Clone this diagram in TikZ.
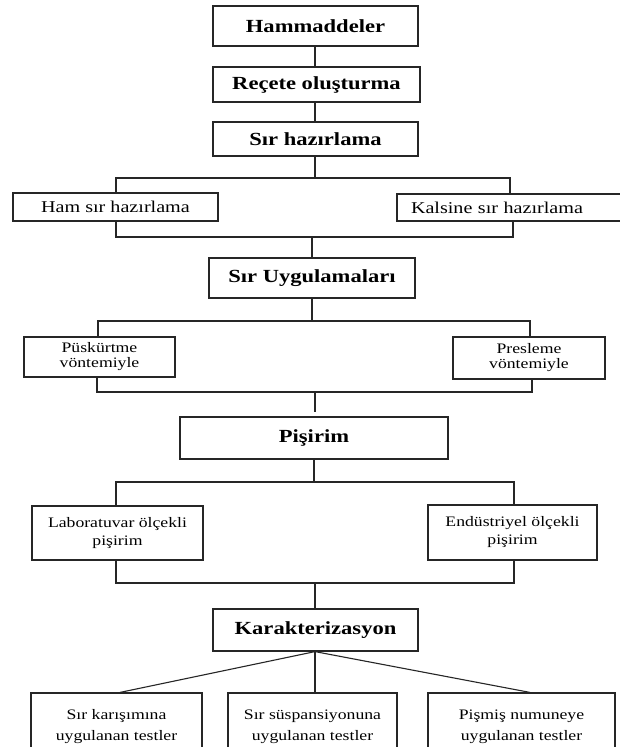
\documentclass[tikz,border=0pt]{standalone}
\usepackage{fontspec}
\setmainfont{Liberation Serif}[FakeStretch=1.22]
\usetikzlibrary{positioning}
\begin{document}
\begin{tikzpicture}[x=1pt,y=-1pt,
  ln/.style={draw=black!85, line width=1.1pt},
  box/.style={draw=black!85, line width=1.2pt, rectangle, inner sep=0pt, align=center, text=black},
  big/.style={box, font=\fontsize{18.5}{20}\selectfont\bfseries},
  mid/.style={box, font=\fontsize{16.5}{18}\selectfont},
  sml/.style={box, font=\fontsize{14.5}{15}\selectfont},
  bot/.style={box, font=\fontsize{14.5}{21}\selectfont}]
\useasboundingbox (0,0) rectangle (620,747);
\fill[white] (0,0) rectangle (620,747);
\clip (0,0) rectangle (620,747);

\node[big, minimum width=205pt, minimum height=40pt] (ham) at (315.5,26) {Hammaddeler};
\node[big, minimum width=207pt, minimum height=35pt] (rec) at (316.5,84.5) {Reçete oluşturma};
\node[big, minimum width=205pt, minimum height=34pt] (sir) at (315.5,139) {Sır hazırlama};

\node[mid, minimum width=205pt, minimum height=28pt] (hsir) at (115.5,207) {Ham sır hazırlama};
\node[mid, text width=212pt, inner xsep=14pt, align=left, minimum height=27pt] (ksir) at (517,207.5) {Kalsine sır hazırlama};

\node[big, minimum width=206pt, minimum height=40pt] (uyg) at (312,278) {Sır Uygulamaları};

\node[sml, minimum width=151pt, minimum height=40pt] (pus) at (99.5,357) {Püskürtme\\vöntemiyle};
\node[sml, minimum width=152pt, minimum height=42pt] (pre) at (529,358) {Presleme\\vöntemiyle};

\node[big, minimum width=268pt, minimum height=42pt] (pis) at (314,438) {Pişirim};

\node[sml, minimum width=171pt, minimum height=54pt] (lab) at (117.5,533) {Laboratuvar ölçekli\\[3pt]pişirim};
\node[sml, minimum width=169pt, minimum height=55pt] (end) at (512.5,532.5) {Endüstriyel ölçekli\\[3pt]pişirim};

\node[big, minimum width=205pt, minimum height=42pt] (kar) at (315.5,630) {Karakterizasyon};

\node[bot, minimum width=171pt, minimum height=67pt] (t1) at (116.5,726.5) {Sır karışımına\\uygulanan testler};
\node[bot, minimum width=169pt, minimum height=67pt] (t2) at (312.5,726.5) {Sır süspansiyonuna\\uygulanan testler};
\node[bot, minimum width=187pt, minimum height=67pt] (t3) at (521.5,726.5) {Pişmiş numuneye\\uygulanan testler};

% connectors
\draw[ln] (ham.south -| 315,0) -- (rec.north -| 315,0);
\draw[ln] (rec.south -| 315,0) -- (sir.north -| 315,0);

\coordinate (f1) at (315,178);
\coordinate (f1l) at (116,178);
\coordinate (f1r) at (510,178);
\draw[ln] (sir.south -| f1) -- (f1);
\draw[ln] (hsir.north -| f1l) -- (f1l) -- (f1r) -- (ksir.north -| f1r);

\coordinate (j1l) at (116,237);
\coordinate (j1r) at (513,237);
\draw[ln] (hsir.south -| j1l) -- (j1l) -- (j1r) -- (ksir.south -| j1r);
\draw[ln] (j1l -| uyg.north) -- (uyg.north);

\coordinate (f2l) at (98,321);
\coordinate (f2r) at (530,321);
\draw[ln] (uyg.south) -- (uyg.south |- f2l);
\draw[ln] (pus.north -| f2l) -- (f2l) -- (f2r) -- (pre.north -| f2r);

\coordinate (j2l) at (97,392);
\coordinate (j2r) at (532,392);
\draw[ln] (pus.south -| j2l) -- (j2l) -- (j2r) -- (pre.south -| j2r);
\draw[ln, shorten >=4pt] (j2l -| 315,0) -- (pis.north -| 315,0);

\coordinate (f3l) at (116,482);
\coordinate (f3r) at (514,482);
\draw[ln] (pis.south) -- (pis.south |- f3l);
\draw[ln] (lab.north -| f3l) -- (f3l) -- (f3r) -- (end.north -| f3r);

\coordinate (j3l) at (116,583);
\coordinate (j3r) at (514,583);
\draw[ln] (lab.south -| j3l) -- (j3l) -- (j3r) -- (end.south -| j3r);
\draw[ln] (j3l -| 315,0) -- (kar.north -| 315,0);

\draw[ln] (kar.south -| 315,0) -- (t1.north -| 120,0);
\draw[ln] (kar.south -| 315,0) -- (t2.north -| 315,0);
\draw[ln] (kar.south -| 315,0) -- (t3.north -| 530,0);
\end{tikzpicture}
\end{document}
